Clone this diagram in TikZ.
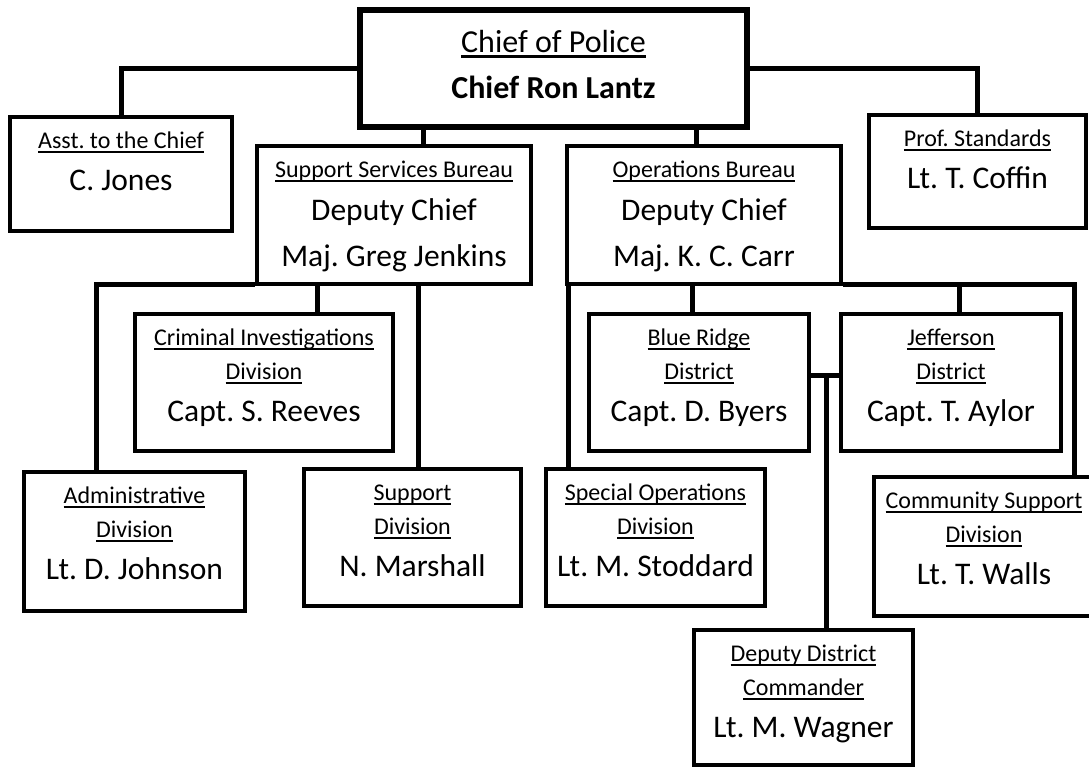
\documentclass[tikz,border=0pt]{standalone}
\usepackage{fontspec}
\setmainfont{Carlito}
\usetikzlibrary{calc}
\frenchspacing

\newsavebox\ttlbox
\newcommand\ttl[1]{\sbox\ttlbox{#1}\rlap{\rule[-0.17em]{\wd\ttlbox}{0.08em}}\usebox\ttlbox}
\newcommand\namefont{\fontsize{31.5}{40}\selectfont}
\newcommand\topstrut{\rule{0pt}{24pt}}

\begin{document}
\begin{tikzpicture}[x=1pt, y=-1pt,
  orgbox/.style={draw, line width=4.5pt, rectangle, inner sep=0pt},
  chiefbox/.style={orgbox, line width=6pt},
  boxtext/.style={anchor=north, align=center, inner sep=0pt, font=\fontsize{24}{34}\selectfont},
  conn/.style={line width=5pt}]

\fill[white] (0,0) rectangle (1089,770);
\useasboundingbox (0,0) rectangle (1089,770);

% Chief
\node (chief) [chiefbox, minimum width=387, minimum height=117] at (553.5,68.5) {};
\node (chief-t) [boxtext, font=\fontsize{32}{34}\selectfont] at ([yshift=-21pt]chief.north)
  {\topstrut\ttl{Chief of Police}\\[12pt]\textbf{Chief Ron Lantz}};

% Staff
\node (asst) [orgbox, minimum width=222, minimum height=114] at (121,174) {};
\node (asst-t) [boxtext] at ([yshift=-9.5pt]asst.north)
  {\topstrut\ttl{Asst. to the Chief}\\[8pt]\namefont C. Jones};

\node (prof) [orgbox, minimum width=217, minimum height=113] at (977.5,171.5) {};
\node (prof-t) [boxtext] at ([yshift=-9.5pt]prof.north)
  {\topstrut\ttl{Prof. Standards}\\[8pt]\namefont Lt. T. Coffin};

% Bureaus
\node (ssb) [orgbox, minimum width=274, minimum height=138] at (394,215) {};
\node (ssb-t) [boxtext] at ([yshift=-9.5pt]ssb.north)
  {\topstrut\ttl{Support Services Bureau}\\[9pt]\namefont Deputy Chief\\[12pt]\namefont Maj. Greg Jenkins};

\node (ops) [orgbox, minimum width=274, minimum height=138] at (704,215) {};
\node (ops-t) [boxtext] at ([yshift=-9.5pt]ops.north)
  {\topstrut\ttl{Operations Bureau}\\[9pt]\namefont Deputy Chief\\[12pt]\namefont Maj. K. C. Carr};

% Support Services divisions
\node (cid) [orgbox, minimum width=258, minimum height=137] at (264,382.5) {};
\node (cid-t) [boxtext] at ([yshift=-9.5pt]cid.north)
  {\topstrut\ttl{Criminal Investigations}\\\ttl{Division}\\[8pt]\namefont Capt. S. Reeves};

\node (admin) [orgbox, minimum width=221, minimum height=139] at (134.5,541.5) {};
\node (admin-t) [boxtext] at ([yshift=-9.5pt]admin.north)
  {\topstrut\ttl{Administrative}\\\ttl{Division}\\[8pt]\namefont Lt. D. Johnson};

\node (supdiv) [orgbox, minimum width=217, minimum height=137] at (412.5,537.5) {};
\node (supdiv-t) [boxtext] at ([yshift=-9.5pt]supdiv.north)
  {\topstrut\ttl{Support}\\\ttl{Division}\\[8pt]\namefont N. Marshall};

% Operations divisions
\node (brdist) [orgbox, minimum width=220, minimum height=137] at (699,382.5) {};
\node (brdist-t) [boxtext] at ([yshift=-9.5pt]brdist.north)
  {\topstrut\ttl{Blue Ridge}\\\ttl{District}\\[8pt]\namefont Capt. D. Byers};

\node (jfdist) [orgbox, minimum width=220, minimum height=137] at (951,382.5) {};
\node (jfdist-t) [boxtext] at ([yshift=-9.5pt]jfdist.north)
  {\topstrut\ttl{Jefferson}\\\ttl{District}\\[8pt]\namefont Capt. T. Aylor};

\node (specops) [orgbox, minimum width=219, minimum height=137] at (655.5,537.5) {};
\node (specops-t) [boxtext] at ([yshift=-9.5pt]specops.north)
  {\topstrut\ttl{Special Operations}\\\ttl{Division}\\[8pt]\namefont Lt. M. Stoddard};

\node (commsup) [orgbox, minimum width=232, minimum height=139] at (990,546.5) {};
\node (commsup-t) [boxtext] at ([xshift=-6pt, yshift=-9.5pt]commsup.north)
  {\topstrut\ttl{Community Support}\\\ttl{Division}\\[8pt]\namefont Lt. T. Walls};

\node (deputy) [orgbox, minimum width=219, minimum height=135] at (803.5,697.5) {};
\node (deputy-t) [boxtext] at ([yshift=-9.5pt]deputy.north)
  {\topstrut\ttl{Deputy District}\\\ttl{Commander}\\[8pt]\namefont Lt. M. Wagner};

% taps
\coordinate (ssbtap) at (423,0);
\coordinate (opstap) at (696,0);
\coordinate (admtap) at (96,0);
\coordinate (cidtap) at (317,0);
\coordinate (suptap) at (418,0);
\coordinate (soptap) at (568,0);
\coordinate (brtap) at (692,0);
\coordinate (jftap) at (959,0);
\coordinate (cstap) at (1074,0);
\coordinate (lnk) at (826,375);

% connectors
\draw[conn] (chief.west) -| (asst.north);
\draw[conn] (chief.east) -| (prof.north);
\draw[conn] (chief.south -| ssbtap) -- (ssb.north -| ssbtap);
\draw[conn] (chief.south -| opstap) -- (ops.north -| opstap);

\draw[conn] ([yshift=2pt]ssb.south west) -| (admin.north -| admtap);
\draw[conn] (ssb.south -| cidtap) -- (cid.north -| cidtap);
\draw[conn] (ssb.south -| suptap) -- (supdiv.north -| suptap);

\draw[conn] (ops.south -| soptap) -- (specops.north -| soptap);
\draw[conn] (ops.south -| brtap) -- (brdist.north -| brtap);
\draw[conn] ([yshift=2pt]ops.south east) -| (commsup.north -| cstap);
\draw[conn] (ops.south -| jftap) -- (jfdist.north -| jftap);

\draw[conn] (brdist.east |- lnk) -- (jfdist.west |- lnk);
\draw[conn] (lnk) -- (deputy.north -| lnk);
\end{tikzpicture}
\end{document}
